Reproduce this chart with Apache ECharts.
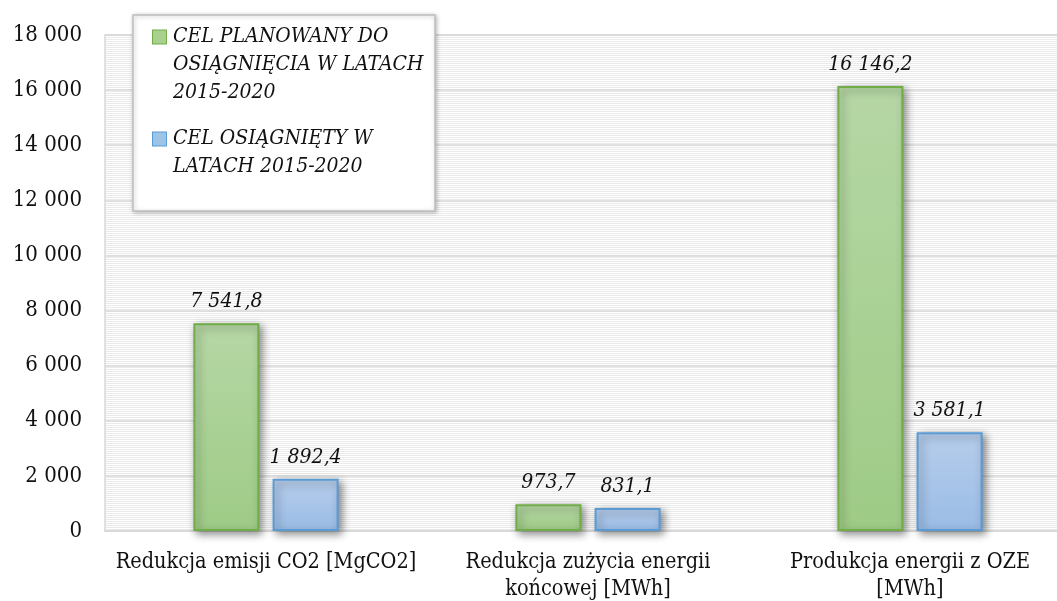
<!DOCTYPE html>
<html>
<head>
<meta charset="utf-8">
<script src="https://cdn.jsdelivr.net/npm/echarts@6/dist/echarts.min.js"></script>
<style>
  html, body { margin: 0; padding: 0; background: #fff; }
  #chart { width: 1057px; height: 601px; }
</style>
</head>
<body>
<div id="chart"></div>
<script>
// dane wykresu
var categories = [
  "Redukcja emisji CO2 [MgCO2]",
  "Redukcja zużycia energii\nkońcowej [MWh]",
  "Produkcja energii z OZE\n[MWh]"
];
var seriesNames = [
  "CEL PLANOWANY DO OSIĄGNIĘCIA W LATACH 2015-2020",
  "CEL OSIĄGNIĘTY W LATACH 2015-2020"
];
var planned = [7541.8, 973.7, 16146.2];
var achieved = [1892.4, 831.1, 3581.1];

var FONT = "'DejaVu Serif Condensed', 'DejaVu Serif', serif";

// liczby w formacie polskim: spacja tysięcy, przecinek dziesiętny
function plNum(v, dec) {
  var s = v.toFixed(dec).split(".");
  var int = s[0].replace(/\B(?=(\d{3})+(?!\d))/g, " ");
  return s.length > 1 ? int + "," + s[1] : int;
}

// tło obszaru wykresu w paski
var stripe = document.createElement("canvas");
stripe.width = 4;
stripe.height = 2;
var sctx = stripe.getContext("2d");
sctx.fillStyle = "#ffffff";
sctx.fillRect(0, 0, 4, 1);
sctx.fillStyle = "#eaeaea";
sctx.fillRect(0, 1, 4, 1);

var chartDom = document.getElementById("chart");
var myChart = echarts.init(chartDom);

var barShadow = {
  shadowColor: "rgba(0, 0, 0, 0.45)",
  shadowBlur: 8,
  shadowOffsetX: 3,
  shadowOffsetY: 3
};

var valueLabel = {
  show: true,
  position: "top",
  distance: 11,
  color: "#111",
  fontFamily: FONT,
  fontStyle: "italic",
  fontSize: 21,
  formatter: function (p) { return plNum(p.value, 1); }
};

var LH = 28;
var legendRich = {
  g: { width: 13, height: 13, backgroundColor: "#a9d18e", borderColor: "#70ad47", borderWidth: 1, lineHeight: LH },
  b: { width: 13, height: 13, backgroundColor: "#9dc3e6", borderColor: "#5b9bd5", borderWidth: 1, lineHeight: LH },
  s: { width: 7, lineHeight: LH },
  i: { width: 20, lineHeight: LH },
  t: { fontFamily: FONT, fontStyle: "italic", fontSize: 21, color: "#111", lineHeight: LH }
};

var option = {
  animation: false,
  backgroundColor: "#ffffff",
  textStyle: { fontFamily: FONT },
  graphic: [
    {
      type: "rect",
      z: 10,
      shape: { x: 133, y: 15, width: 302, height: 196 },
      style: {
        fill: "#ffffff",
        stroke: "#bfbfbf",
        lineWidth: 1.5,
        shadowColor: "rgba(0,0,0,0.25)",
        shadowBlur: 4,
        shadowOffsetX: 1,
        shadowOffsetY: 1
      }
    }
  ],
  legend: {
    z: 20,
    orient: "vertical",
    left: 147,
    top: 23,
    padding: 0,
    itemGap: 18,
    icon: "rect",
    itemWidth: 1,
    itemHeight: 1,
    itemStyle: { color: "rgba(0,0,0,0)", borderWidth: 0 },
    selectedMode: false,
    data: seriesNames,
    formatter: function (name) {
      if (name === seriesNames[0]) {
        return "{g| }{s| }{t|CEL PLANOWANY DO}\n{i| }{t|OSIĄGNIĘCIA W LATACH}\n{i| }{t|2015-2020}";
      }
      return "{b| }{s| }{t|CEL OSIĄGNIĘTY W}\n{i| }{t|LATACH 2015-2020}";
    },
    textStyle: { rich: legendRich, lineHeight: LH }
  },
  grid: [
    {
      left: 105,
      top: 35,
      width: 966,
      bottom: 70,
      outerBoundsMode: "none",
      containLabel: false,
      show: true,
      borderColor: "#d9d9d9",
      borderWidth: 1.5,
      backgroundColor: { image: stripe, repeat: "repeat" }
    }
  ],
  xAxis: {
    type: "category",
    data: categories,
    axisLine: { lineStyle: { color: "#d9d9d9", width: 2 } },
    axisTick: { show: false },
    axisLabel: {
      color: "#111",
      fontFamily: FONT,
      fontSize: 21.5,
      lineHeight: 27,
      margin: 18,
      interval: 0
    }
  },
  yAxis: {
    type: "value",
    min: 0,
    max: 18000,
    interval: 2000,
    axisLine: { show: false },
    axisTick: { show: false },
    splitLine: { lineStyle: { color: "#d9d9d9", width: 1.5 } },
    axisLabel: {
      color: "#111",
      fontFamily: FONT,
      fontSize: 22,
      margin: 23,
      formatter: function (v) { return plNum(v, 0); }
    }
  },
  series: [
    {
      name: seriesNames[0],
      type: "bar",
      data: planned,
      barWidth: 66,
      barGap: "20%",
      itemStyle: Object.assign({
        color: new echarts.graphic.LinearGradient(0, 0, 0, 1, [
          { offset: 0, color: "#b6d7a5" },
          { offset: 1, color: "#9ecb86" }
        ]),
        borderColor: "#70ad47",
        borderWidth: 2
      }, barShadow),
      label: valueLabel
    },
    {
      name: seriesNames[1],
      type: "bar",
      data: achieved,
      barWidth: 66,
      barGap: "20%",
      itemStyle: Object.assign({
        color: new echarts.graphic.LinearGradient(0, 0, 0, 1, [
          { offset: 0, color: "#b6cdeb" },
          { offset: 1, color: "#9abce6" }
        ]),
        borderColor: "#5b9bd5",
        borderWidth: 2
      }, barShadow),
      label: valueLabel
    }
  ]
};

myChart.setOption(option);

window.addEventListener("resize", function () {
  myChart.resize();
});
</script>
</body>
</html>
